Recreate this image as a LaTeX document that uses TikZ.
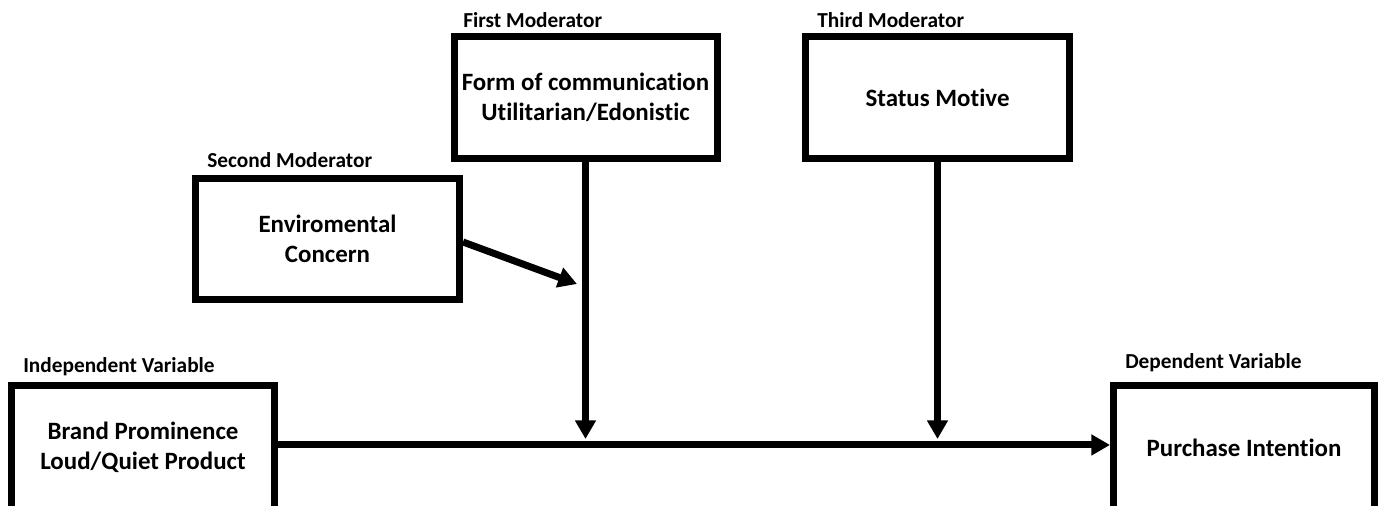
\documentclass[tikz,border=0pt]{standalone}
\usepackage{fontspec}
\setmainfont{Carlito}[Ligatures={NoCommon}]
\usetikzlibrary{arrows.meta}
\begin{document}
\begin{tikzpicture}[x=0.75pt,y=-0.75pt,
  box/.style={draw=black,line width=5.25pt,fill=white,align=center,
    font=\bfseries\fontsize{18.7}{22.5}\selectfont,inner sep=0pt},
  lbl/.style={anchor=west,inner sep=0pt,font=\bfseries\fontsize{16}{18}\selectfont},
  conn/.style={line width=5.25pt,-{Triangle[length=14pt,width=15pt]}}]
\useasboundingbox (0,0) rectangle (1380,506);
\node[box,minimum width=197.25pt,minimum height=91.5pt] (fm) at (585.5,97.5)
  {Form of communication\\Utilitarian/Edonistic};
\node[box,minimum width=198pt,minimum height=91.5pt] (tm) at (937.5,97.5)
  {Status Motive};
\node[box,minimum width=198pt,minimum height=90.75pt] (sm) at (327.5,239)
  {Enviromental\\Concern};
\node[box,minimum width=197.25pt,minimum height=93.75pt] (iv) at (143,447.5)
  {Brand Prominence\\Loud/Quiet Product};
\node[box,minimum width=195.75pt,minimum height=93.75pt] (dv) at (1244,447.5)
  {Purchase Intention};
\node[lbl] (lfm) at (463,20) {First Moderator};
\node[lbl] (ltm) at (817,20) {Third Moderator};
\node[lbl] (lsm) at (207,160) {Second Moderator};
\node[lbl] (liv) at (23,367) {Independent Variable};
\node[lbl] (ldv) at (1125,363) {Dependent Variable};
\coordinate (t1) at (585.5,439);
\coordinate (t2) at (937.5,439);
\coordinate (t3) at (577,284);
\draw[conn] ([yshift=1.9pt]iv.east) -- ([yshift=1.9pt]dv.west);
\draw[conn] (fm.south) -- (t1);
\draw[conn] (tm.south) -- (t2);
\draw[conn] ([yshift=-2.25pt]sm.east) -- (t3);
\end{tikzpicture}
\end{document}
